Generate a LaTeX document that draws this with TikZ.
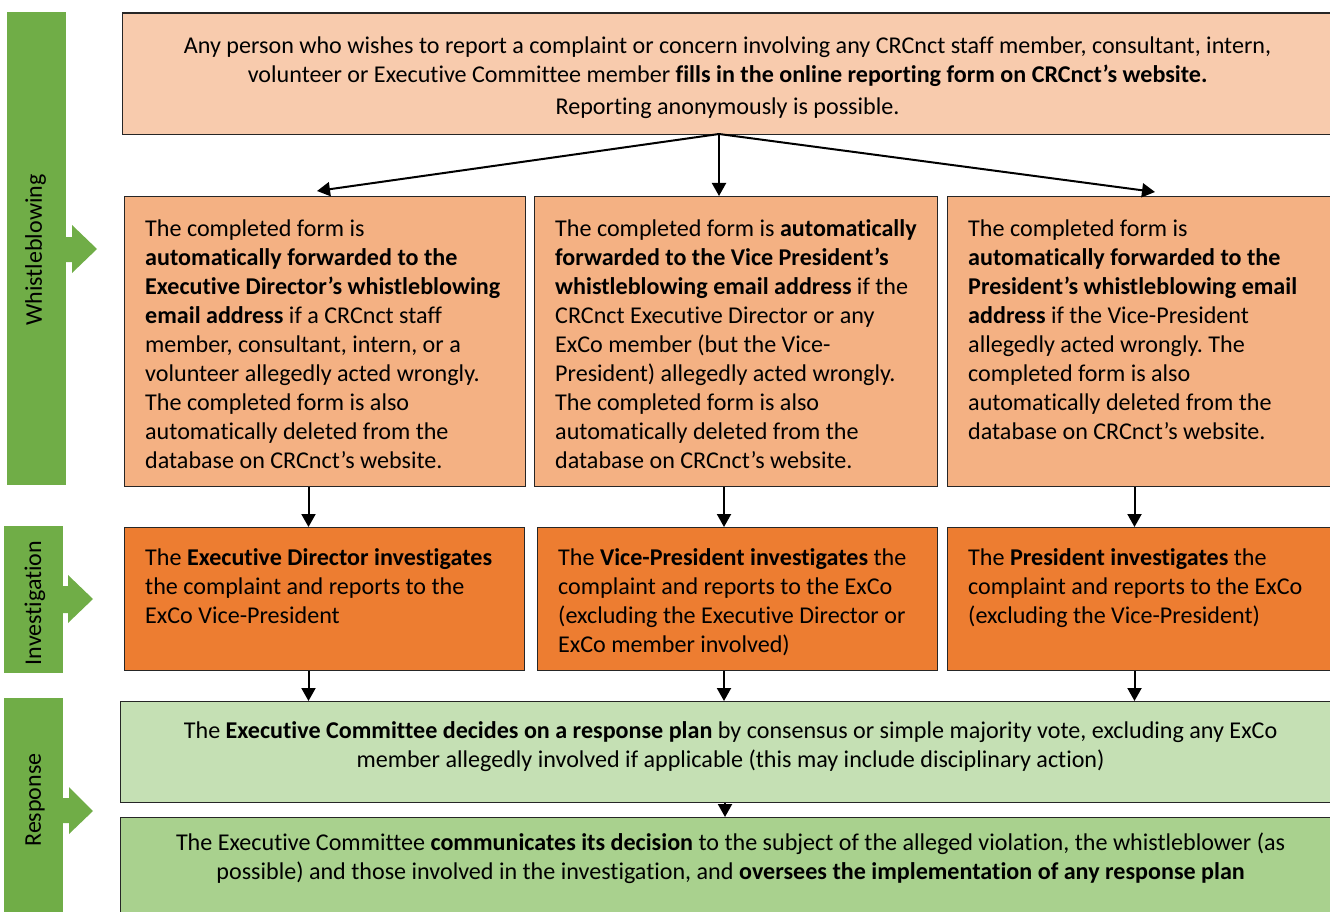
\documentclass[tikz,border=0pt]{standalone}
\usepackage{fontspec}
\setmainfont{Carlito}[Ligatures=NoCommon]
\frenchspacing
\usetikzlibrary{arrows.meta}
\definecolor{reportfill}{HTML}{F8CBAD}
\definecolor{formfill}{HTML}{F4B183}
\definecolor{investfill}{HTML}{ED7D31}
\definecolor{decidefill}{HTML}{C5E0B4}
\definecolor{commfill}{HTML}{A9D18E}
\definecolor{phasefill}{HTML}{70AD47}
\begin{document}
\begin{tikzpicture}[x=1pt,y=-1pt,
  box/.style={draw=black!85, line width=1.2pt, anchor=north west, inner sep=0pt},
  txt/.style={inner sep=0pt, font=\fontsize{24.1}{29}\selectfont, text=black},
  phase/.style={fill=phasefill, draw=none, anchor=north west, inner sep=0pt},
  phaselabel/.style={inner sep=0pt, font=\fontsize{24}{29}\selectfont, rotate=90},
  arr/.style={line width=2pt, -{Triangle[length=13pt,width=14pt]}}]
\useasboundingbox (0,0) rectangle (1330,912);
\clip (0,0) rectangle (1330,912);

% ---- phase bands on the left ----
\node[phase, minimum width=59pt, minimum height=473pt] (wband) at (7,12) {};
\fill[phasefill] (65,237) -- (72,237) -- (72,225) -- (97,249) -- (72,273) -- (72,262) -- (65,262) -- cycle;
\node[phaselabel] (wlabel) at (35.5,250) {Whistleblowing};

\node[phase, minimum width=59pt, minimum height=147pt] (iband) at (4,526) {};
\fill[phasefill] (62,586) -- (68,586) -- (68,575) -- (93,599) -- (68,623) -- (68,613) -- (62,613) -- cycle;
\node[phaselabel] (ilabel) at (35,603) {Investigation};

\node[phase, minimum width=59pt, minimum height=230pt] (rband) at (4,698) {};
\fill[phasefill] (62,798) -- (69,798) -- (69,787) -- (93,811) -- (69,834) -- (69,823) -- (62,823) -- cycle;
\node[phaselabel] (rlabel) at (35,800) {Response};

% ---- reporting ----
\node[box, fill=reportfill, minimum width=1210pt, minimum height=121.5pt] (report) at (122,12.5) {};
\node[txt, align=center, anchor=north] (reporttxt) at ([yshift=-21pt]report.north) {\rule{0pt}{20pt}Any person who wishes to report a complaint or concern involving any CRCnct staff member, consultant, intern,\\
volunteer or Executive Committee member \textbf{fills in the online reporting form on CRCnct’s website.}\\[3pt]
Reporting anonymously is possible.};

% ---- forwarding of the form ----
\node[box, fill=formfill, minimum width=401pt, minimum height=290pt] (fwdA) at (124,196) {};
\node[box, fill=formfill, minimum width=403pt, minimum height=290pt] (fwdB) at (534,196) {};
\node[box, fill=formfill, minimum width=393pt, minimum height=290pt] (fwdC) at (947,196) {};

\node[txt, align=left, anchor=north west] (fwdAtxt) at ([xshift=21pt,yshift=-20.5pt]fwdA.north west) {\rule{0pt}{20pt}The completed form is\\
\textbf{automatically forwarded to the}\\
\textbf{Executive Director’s whistleblowing}\\
\textbf{email address} if a CRCnct staff\\
member, consultant, intern, or a\\
volunteer allegedly acted wrongly.\\
The completed form is also\\
automatically deleted from the\\
database on CRCnct’s website.};

\node[txt, align=left, anchor=north west] (fwdBtxt) at ([xshift=21pt,yshift=-20.5pt]fwdB.north west) {\rule{0pt}{20pt}The completed form is \textbf{automatically}\\
\textbf{forwarded to the Vice President’s}\\
\textbf{whistleblowing email address} if the\\
CRCnct Executive Director or any\\
ExCo member (but the Vice-\\
President) allegedly acted wrongly.\\
The completed form is also\\
automatically deleted from the\\
database on CRCnct’s website.};

\node[txt, align=left, anchor=north west] (fwdCtxt) at ([xshift=21pt,yshift=-20.5pt]fwdC.north west) {\rule{0pt}{20pt}The completed form is\\
\textbf{automatically forwarded to the}\\
\textbf{President’s whistleblowing email}\\
\textbf{address} if the Vice-President\\
allegedly acted wrongly. The\\
completed form is also\\
automatically deleted from the\\
database on CRCnct’s website.};

% ---- investigation ----
\node[box, fill=investfill, minimum width=400pt, minimum height=143pt] (invA) at (124,527) {};
\node[box, fill=investfill, minimum width=400pt, minimum height=143pt] (invB) at (537,527) {};
\node[box, fill=investfill, minimum width=393pt, minimum height=143pt] (invC) at (947,527) {};

\node[txt, align=left, anchor=north west] (invAtxt) at ([xshift=21pt,yshift=-18.5pt]invA.north west) {\rule{0pt}{20pt}The \textbf{Executive Director investigates}\\
the complaint and reports to the\\
ExCo Vice-President};

\node[txt, align=left, anchor=north west] (invBtxt) at ([xshift=21pt,yshift=-18.5pt]invB.north west) {\rule{0pt}{20pt}The \textbf{Vice-President investigates} the\\
complaint and reports to the ExCo\\
(excluding the Executive Director or\\
ExCo member involved)};

\node[txt, align=left, anchor=north west] (invCtxt) at ([xshift=21pt,yshift=-18.5pt]invC.north west) {\rule{0pt}{20pt}The \textbf{President investigates} the\\
complaint and reports to the ExCo\\
(excluding the Vice-President)};

% ---- response ----
\node[box, fill=decidefill, minimum width=1220pt, minimum height=101pt] (decide) at (120,701) {};
\node[txt, align=center, anchor=north] (decidetxt) at ([yshift=-17.5pt]decide.north) {\rule{0pt}{20pt}The \textbf{Executive Committee decides on a response plan} by consensus or simple majority vote, excluding any ExCo\\
member allegedly involved if applicable (this may include disciplinary action)};

\node[box, fill=commfill, minimum width=1220pt, minimum height=110pt] (comm) at (120,817) {};
\node[txt, align=center, anchor=north] (commtxt) at ([yshift=-13.5pt]comm.north) {\rule{0pt}{20pt}The Executive Committee \textbf{communicates its decision} to the subject of the alleged violation, the whistleblower (as\\
possible) and those involved in the investigation, and \textbf{oversees the implementation of any response plan}};

% ---- connectors ----
\coordinate (fork) at (719,134);
\coordinate (tipA) at (317,191);
\coordinate (tipC) at (1155,192);
\draw[arr] (fork) -- (tipA);
\draw[arr] (fork) -- (fwdB.north -| fork);
\draw[arr] (fork) -- (tipC);

\coordinate (colA) at (308.5,0);
\coordinate (colB) at (724,0);
\coordinate (colC) at (1134.5,0);
\draw[arr] (fwdA.south -| colA) -- (invA.north -| colA);
\draw[arr] (fwdB.south -| colB) -- (invB.north -| colB);
\draw[arr] (fwdC.south -| colC) -- (invC.north -| colC);

\draw[arr] (invA.south -| colA) -- (decide.north -| colA);
\draw[arr] (invB.south -| colB) -- (decide.north -| colB);
\draw[arr] (invC.south -| colC) -- (decide.north -| colC);

\coordinate (colD) at (725,0);
\draw[arr] (decide.south -| colD) -- (comm.north -| colD);
\end{tikzpicture}
\end{document}
